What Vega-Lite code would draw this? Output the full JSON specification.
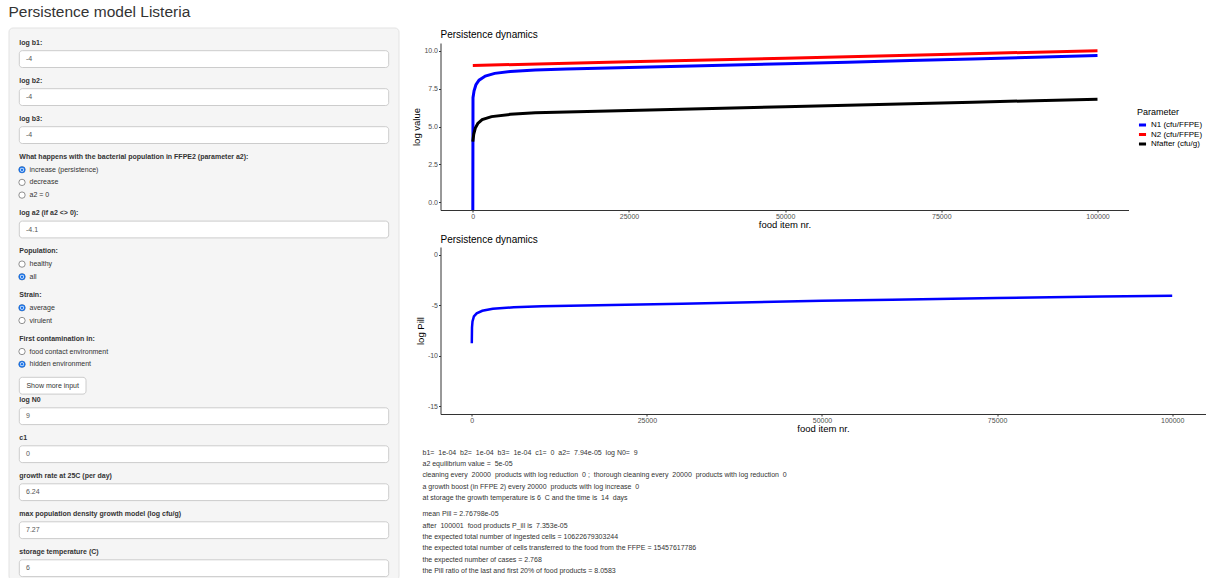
{
  "$schema": "https://vega.github.io/schema/vega-lite/v6.json",
  "background": "white",
  "padding": {"left": 8, "top": 5, "right": 0, "bottom": 0},
  "title": {"text": "Persistence model Listeria", "anchor": "start", "fontSize": 15.5, "fontWeight": "normal", "font": "Liberation Sans", "color": "#333333", "offset": 7},
  "spacing": 11.5,
  "hconcat": [
    {
      "width": 390,
      "height": 536,
      "data": {"values": [
        {"i": 1, "kind": "label", "text": "log b1:", "sel": false},
        {"i": 2, "kind": "input", "text": "-4", "sel": false},
        {"i": 3, "kind": "label", "text": "log b2:", "sel": false},
        {"i": 4, "kind": "input", "text": "-4", "sel": false},
        {"i": 5, "kind": "label", "text": "log b3:", "sel": false},
        {"i": 6, "kind": "input", "text": "-4", "sel": false},
        {"i": 7, "kind": "label", "text": "What happens with the bacterial population in FFPE2 (parameter a2):", "sel": false},
        {"i": 8, "kind": "radio", "text": "increase (persistence)", "sel": true},
        {"i": 9, "kind": "radio", "text": "decrease", "sel": false},
        {"i": 10, "kind": "radio", "text": "a2 = 0", "sel": false},
        {"i": 11, "kind": "label", "text": "log a2 (if a2 <> 0):", "sel": false},
        {"i": 12, "kind": "input", "text": "-4.1", "sel": false},
        {"i": 13, "kind": "label", "text": "Population:", "sel": false},
        {"i": 14, "kind": "radio", "text": "healthy", "sel": false},
        {"i": 15, "kind": "radio", "text": "all", "sel": true},
        {"i": 16, "kind": "label", "text": "Strain:", "sel": false},
        {"i": 17, "kind": "radio", "text": "average", "sel": true},
        {"i": 18, "kind": "radio", "text": "virulent", "sel": false},
        {"i": 19, "kind": "label", "text": "First contamination in:", "sel": false},
        {"i": 20, "kind": "radio", "text": "food contact environment", "sel": false},
        {"i": 21, "kind": "radio", "text": "hidden environment", "sel": true},
        {"i": 22, "kind": "button", "text": "Show more input", "sel": false},
        {"i": 23, "kind": "label", "text": "log N0", "sel": false},
        {"i": 24, "kind": "input", "text": "9", "sel": false},
        {"i": 25, "kind": "label", "text": "c1", "sel": false},
        {"i": 26, "kind": "input", "text": "0", "sel": false},
        {"i": 27, "kind": "label", "text": "growth rate at 25C (per day)", "sel": false},
        {"i": 28, "kind": "input", "text": "6.24", "sel": false},
        {"i": 29, "kind": "label", "text": "max population density growth model (log cfu/g)", "sel": false},
        {"i": 30, "kind": "input", "text": "7.27", "sel": false},
        {"i": 31, "kind": "label", "text": "storage temperature (C)", "sel": false},
        {"i": 32, "kind": "input", "text": "6", "sel": false},
        {"i": 99, "kind": "panel", "text": "", "sel": false}
      ]},
      "transform": [
        {"window": [{"op": "lag", "field": "kind", "as": "prev"}], "sort": [{"field": "i", "order": "ascending"}]},
        {"calculate": "datum.prev == null ? 41.7 : datum.kind == 'input' ? 16.4 : datum.kind == 'radio' ? (datum.prev == 'radio' ? 12.7 : 13) : datum.kind == 'button' ? 21.5 : (datum.prev == 'input' ? 21.6 : datum.prev == 'radio' ? 18 : 14.1)", "as": "gap"},
        {"window": [{"op": "sum", "field": "gap", "as": "yc"}], "sort": [{"field": "i", "order": "ascending"}], "frame": [null, 0]},
        {"calculate": "datum.kind == 'panel' ? 27 : datum.yc - 8.4", "as": "ytop"},
        {"calculate": "datum.kind == 'panel' ? 579 : datum.yc + 8.4", "as": "ybot"},
        {"calculate": "datum.kind == 'panel' ? 8 : 18.3", "as": "xl"},
        {"calculate": "21", "as": "xc"},
        {"calculate": "datum.kind == 'panel' ? 398 : datum.kind == 'button' ? 85 : 387.7", "as": "xr"},
        {"calculate": "datum.kind == 'radio' ? 28.5 : datum.kind == 'input' ? 25 : datum.kind == 'button' ? 51.7 : 18.3", "as": "xt"}
      ],
      "layer": [
        {
          "transform": [{"filter": "datum.kind == 'panel'"}],
          "mark": {"type": "rect", "fill": "#f5f5f5", "stroke": "#e3e3e3", "strokeWidth": 1, "cornerRadius": 4},
          "encoding": {
            "x": {"field": "xl", "type": "quantitative", "scale": {"domain": [8, 398], "nice": false, "zero": false}, "axis": null},
            "x2": {"field": "xr"},
            "y": {"field": "ytop", "type": "quantitative", "scale": {"domain": [42, 578], "reverse": true, "nice": false, "zero": false}, "axis": null},
            "y2": {"field": "ybot"}
          }
        },
        {
          "transform": [{"filter": "datum.kind == 'input' || datum.kind == 'button'"}],
          "mark": {"type": "rect", "fill": "white", "stroke": "#cccccc", "strokeWidth": 1, "cornerRadius": 3},
          "encoding": {
            "x": {"field": "xl", "type": "quantitative", "scale": {"domain": [8, 398], "nice": false, "zero": false}, "axis": null},
            "x2": {"field": "xr"},
            "y": {"field": "ytop", "type": "quantitative", "scale": {"domain": [42, 578], "reverse": true, "nice": false, "zero": false}, "axis": null},
            "y2": {"field": "ybot"}
          }
        },
        {
          "transform": [{"filter": "datum.kind == 'radio'"}],
          "mark": {"type": "point", "shape": "circle", "size": 40, "filled": true, "fill": "white", "stroke": "#767676", "strokeWidth": 0.8, "opacity": 1},
          "encoding": {
            "x": {"field": "xc", "type": "quantitative", "scale": {"domain": [8, 398], "nice": false, "zero": false}, "axis": null},
            "y": {"field": "yc", "type": "quantitative", "scale": {"domain": [42, 578], "reverse": true, "nice": false, "zero": false}, "axis": null}
          }
        },
        {
          "transform": [{"filter": "datum.kind == 'radio' && datum.sel"}],
          "mark": {"type": "point", "shape": "circle", "size": 44, "filled": true, "color": "#1a73e8", "opacity": 1},
          "encoding": {
            "x": {"field": "xc", "type": "quantitative", "scale": {"domain": [8, 398], "nice": false, "zero": false}, "axis": null},
            "y": {"field": "yc", "type": "quantitative", "scale": {"domain": [42, 578], "reverse": true, "nice": false, "zero": false}, "axis": null}
          }
        },
        {
          "transform": [{"filter": "datum.kind == 'radio' && datum.sel"}],
          "mark": {"type": "point", "shape": "circle", "size": 16, "filled": true, "color": "white", "opacity": 1},
          "encoding": {
            "x": {"field": "xc", "type": "quantitative", "scale": {"domain": [8, 398], "nice": false, "zero": false}, "axis": null},
            "y": {"field": "yc", "type": "quantitative", "scale": {"domain": [42, 578], "reverse": true, "nice": false, "zero": false}, "axis": null}
          }
        },
        {
          "transform": [{"filter": "datum.kind == 'radio' && datum.sel"}],
          "mark": {"type": "point", "shape": "circle", "size": 7, "filled": true, "color": "#1a73e8", "opacity": 1},
          "encoding": {
            "x": {"field": "xc", "type": "quantitative", "scale": {"domain": [8, 398], "nice": false, "zero": false}, "axis": null},
            "y": {"field": "yc", "type": "quantitative", "scale": {"domain": [42, 578], "reverse": true, "nice": false, "zero": false}, "axis": null}
          }
        },
        {
          "transform": [{"filter": "datum.kind == 'label'"}],
          "mark": {"type": "text", "align": "left", "baseline": "middle", "fontSize": 7, "fontWeight": "bold", "font": "Liberation Sans", "color": "#333333"},
          "encoding": {
            "x": {"field": "xt", "type": "quantitative", "scale": {"domain": [8, 398], "nice": false, "zero": false}, "axis": null},
            "y": {"field": "yc", "type": "quantitative", "scale": {"domain": [42, 578], "reverse": true, "nice": false, "zero": false}, "axis": null},
            "text": {"field": "text"}
          }
        },
        {
          "transform": [{"filter": "datum.kind == 'radio'"}],
          "mark": {"type": "text", "align": "left", "baseline": "middle", "fontSize": 7, "font": "Liberation Sans", "color": "#333333"},
          "encoding": {
            "x": {"field": "xt", "type": "quantitative", "scale": {"domain": [8, 398], "nice": false, "zero": false}, "axis": null},
            "y": {"field": "yc", "type": "quantitative", "scale": {"domain": [42, 578], "reverse": true, "nice": false, "zero": false}, "axis": null},
            "text": {"field": "text"}
          }
        },
        {
          "transform": [{"filter": "datum.kind == 'input'"}],
          "mark": {"type": "text", "align": "left", "baseline": "middle", "fontSize": 7, "font": "Liberation Sans", "color": "#555555"},
          "encoding": {
            "x": {"field": "xt", "type": "quantitative", "scale": {"domain": [8, 398], "nice": false, "zero": false}, "axis": null},
            "y": {"field": "yc", "type": "quantitative", "scale": {"domain": [42, 578], "reverse": true, "nice": false, "zero": false}, "axis": null},
            "text": {"field": "text"}
          }
        },
        {
          "transform": [{"filter": "datum.kind == 'button'"}],
          "mark": {"type": "text", "align": "center", "baseline": "middle", "fontSize": 7, "font": "Liberation Sans", "color": "#333333"},
          "encoding": {
            "x": {"field": "xt", "type": "quantitative", "scale": {"domain": [8, 398], "nice": false, "zero": false}, "axis": null},
            "y": {"field": "yc", "type": "quantitative", "scale": {"domain": [42, 578], "reverse": true, "nice": false, "zero": false}, "axis": null},
            "text": {"field": "text"}
          }
        }
      ]
    },
    {
      "spacing": 6,
      "vconcat": [
        {
          "width": 688,
          "height": 167,
          "title": {"text": "Persistence dynamics", "anchor": "start", "frame": "group", "fontSize": 10, "fontWeight": "normal", "color": "#000000", "offset": 3},
          "data": {"values": [
            {"item": 0, "value": -0.5, "Parameter": "N1 (cfu/FFPE)"},
            {"item": 30, "value": 6.9, "Parameter": "N1 (cfu/FFPE)"},
            {"item": 200, "value": 7.35, "Parameter": "N1 (cfu/FFPE)"},
            {"item": 500, "value": 7.75, "Parameter": "N1 (cfu/FFPE)"},
            {"item": 1000, "value": 8.05, "Parameter": "N1 (cfu/FFPE)"},
            {"item": 2000, "value": 8.32, "Parameter": "N1 (cfu/FFPE)"},
            {"item": 3500, "value": 8.5, "Parameter": "N1 (cfu/FFPE)"},
            {"item": 6000, "value": 8.62, "Parameter": "N1 (cfu/FFPE)"},
            {"item": 10000, "value": 8.72, "Parameter": "N1 (cfu/FFPE)"},
            {"item": 15000, "value": 8.79, "Parameter": "N1 (cfu/FFPE)"},
            {"item": 20000, "value": 8.84, "Parameter": "N1 (cfu/FFPE)"},
            {"item": 30000, "value": 8.93, "Parameter": "N1 (cfu/FFPE)"},
            {"item": 40000, "value": 9.03, "Parameter": "N1 (cfu/FFPE)"},
            {"item": 50000, "value": 9.13, "Parameter": "N1 (cfu/FFPE)"},
            {"item": 60000, "value": 9.24, "Parameter": "N1 (cfu/FFPE)"},
            {"item": 70000, "value": 9.35, "Parameter": "N1 (cfu/FFPE)"},
            {"item": 80000, "value": 9.45, "Parameter": "N1 (cfu/FFPE)"},
            {"item": 90000, "value": 9.56, "Parameter": "N1 (cfu/FFPE)"},
            {"item": 100001, "value": 9.67, "Parameter": "N1 (cfu/FFPE)"},
            {"item": 0, "value": 9.02, "Parameter": "N2 (cfu/FFPE)"},
            {"item": 25000, "value": 9.26, "Parameter": "N2 (cfu/FFPE)"},
            {"item": 50000, "value": 9.5, "Parameter": "N2 (cfu/FFPE)"},
            {"item": 75000, "value": 9.75, "Parameter": "N2 (cfu/FFPE)"},
            {"item": 100001, "value": 9.99, "Parameter": "N2 (cfu/FFPE)"},
            {"item": 0, "value": 4.0, "Parameter": "Nfafter (cfu/g)"},
            {"item": 150, "value": 4.5, "Parameter": "Nfafter (cfu/g)"},
            {"item": 400, "value": 4.9, "Parameter": "Nfafter (cfu/g)"},
            {"item": 800, "value": 5.2, "Parameter": "Nfafter (cfu/g)"},
            {"item": 1500, "value": 5.45, "Parameter": "Nfafter (cfu/g)"},
            {"item": 3000, "value": 5.65, "Parameter": "Nfafter (cfu/g)"},
            {"item": 6000, "value": 5.8, "Parameter": "Nfafter (cfu/g)"},
            {"item": 10000, "value": 5.9, "Parameter": "Nfafter (cfu/g)"},
            {"item": 15000, "value": 5.96, "Parameter": "Nfafter (cfu/g)"},
            {"item": 20000, "value": 6.0, "Parameter": "Nfafter (cfu/g)"},
            {"item": 30000, "value": 6.1, "Parameter": "Nfafter (cfu/g)"},
            {"item": 40000, "value": 6.2, "Parameter": "Nfafter (cfu/g)"},
            {"item": 50000, "value": 6.3, "Parameter": "Nfafter (cfu/g)"},
            {"item": 60000, "value": 6.4, "Parameter": "Nfafter (cfu/g)"},
            {"item": 70000, "value": 6.5, "Parameter": "Nfafter (cfu/g)"},
            {"item": 80000, "value": 6.6, "Parameter": "Nfafter (cfu/g)"},
            {"item": 90000, "value": 6.7, "Parameter": "Nfafter (cfu/g)"},
            {"item": 100001, "value": 6.8, "Parameter": "Nfafter (cfu/g)"}
          ]},
          "mark": {"type": "line", "strokeWidth": 3, "clip": true},
          "encoding": {
            "x": {"field": "item", "type": "quantitative", "scale": {"domain": [-5173, 104965], "nice": false, "zero": false},
                  "axis": {"values": [0, 25000, 50000, 75000, 100000], "format": "d", "title": "food item nr.", "titlePadding": 0}},
            "y": {"field": "value", "type": "quantitative", "scale": {"domain": [-0.5, 10.5], "nice": false, "zero": false},
                  "axis": {"values": [0, 2.5, 5, 7.5, 10], "format": ".1f", "title": "log value", "titlePadding": 2}},
            "color": {"field": "Parameter", "type": "nominal",
                      "scale": {"domain": ["N1 (cfu/FFPE)", "N2 (cfu/FFPE)", "Nfafter (cfu/g)"], "range": ["#0000FF", "#FF0000", "#000000"]},
                      "legend": {"title": "Parameter", "orient": "none", "legendX": 1128, "legendY": 65, "titleFontSize": 9, "titleFontWeight": "normal", "titleColor": "#000000", "titleFont": "Liberation Sans", "labelFontSize": 8, "labelColor": "#000000", "labelFont": "Liberation Sans", "symbolType": "stroke", "symbolStrokeWidth": 3, "symbolSize": 50, "clipHeight": 8, "rowPadding": 1.5, "titlePadding": 4, "labelOffset": 3}}
          }
        },
        {
          "width": 765,
          "height": 167,
          "title": {"text": "Persistence dynamics", "anchor": "start", "frame": "group", "fontSize": 10, "fontWeight": "normal", "color": "#000000", "offset": 2},
          "data": {"values": [
            {"item": 0, "logPill": -8.75},
            {"item": 30, "logPill": -7.2},
            {"item": 100, "logPill": -6.6},
            {"item": 300, "logPill": -6.1},
            {"item": 700, "logPill": -5.8},
            {"item": 1500, "logPill": -5.55},
            {"item": 3000, "logPill": -5.35},
            {"item": 6000, "logPill": -5.2},
            {"item": 10000, "logPill": -5.1},
            {"item": 20000, "logPill": -4.99},
            {"item": 30000, "logPill": -4.85},
            {"item": 40000, "logPill": -4.7},
            {"item": 50000, "logPill": -4.56},
            {"item": 60000, "logPill": -4.45},
            {"item": 75000, "logPill": -4.28},
            {"item": 90000, "logPill": -4.15},
            {"item": 100001, "logPill": -4.06}
          ]},
          "mark": {"type": "line", "strokeWidth": 2.5, "color": "#0000FF", "clip": true},
          "encoding": {
            "x": {"field": "item", "type": "quantitative", "scale": {"domain": [-4469, 104755], "nice": false, "zero": false},
                  "axis": {"values": [0, 25000, 50000, 75000, 100000], "format": "d", "title": "food item nr.", "titlePadding": 0}},
            "y": {"field": "logPill", "type": "quantitative", "scale": {"domain": [-15.75, 0.75], "nice": false, "zero": false},
                  "axis": {"values": [0, -5, -10, -15], "labelExpr": "datum.value + ''", "title": "log Pill", "titlePadding": 2}}
          }
        },
        {
          "width": 700,
          "height": 126,
          "data": {"values": [
            {"line": 1, "para": 1, "text": "b1= \u00a01e-04 \u00a0b2= \u00a01e-04 \u00a0b3= \u00a01e-04 \u00a0c1= \u00a00 \u00a0a2= \u00a07.94e-05 \u00a0log N0= \u00a09"},
            {"line": 2, "para": 1, "text": "a2 equilibrium value = \u00a05e-05"},
            {"line": 3, "para": 1, "text": "cleaning every \u00a020000 \u00a0products with log reduction \u00a00 ; \u00a0thorough cleaning every \u00a020000 \u00a0products with log reduction \u00a00"},
            {"line": 4, "para": 1, "text": "a growth boost (in FFPE 2) every 20000 \u00a0products with log increase \u00a00"},
            {"line": 5, "para": 1, "text": "at storage the growth temperature is 6 \u00a0C and the time is \u00a014 \u00a0days"},
            {"line": 6, "para": 2, "text": "mean Pill = 2.76798e-05"},
            {"line": 7, "para": 2, "text": "after \u00a0100001 \u00a0food products P_ill is \u00a07.353e-05"},
            {"line": 8, "para": 2, "text": "the expected total number of ingested cells = 10622679303244"},
            {"line": 9, "para": 2, "text": "the expected total number of cells transferred to the food from the FFPE = 15457617786"},
            {"line": 10, "para": 2, "text": "the expected number of cases = 2.768"},
            {"line": 11, "para": 2, "text": "the Pill ratio of the last and first 20% of food products = 8.0583"}
          ]},
          "transform": [{"calculate": "datum.line + (datum.para - 1) * 0.4", "as": "yy"}],
          "mark": {"type": "text", "align": "left", "baseline": "middle", "dx": -18, "fontSize": 7, "font": "Liberation Sans", "color": "#333333"},
          "encoding": {
            "x": {"value": 0},
            "y": {"field": "yy", "type": "quantitative", "scale": {"domain": [-0.19, 10.86], "reverse": true, "nice": false, "zero": false}, "axis": null},
            "text": {"field": "text"}
          }
        }
      ]
    }
  ],
  "config": {
    "font": "Liberation Sans",
    "view": {"stroke": null},
    "axis": {
      "grid": false,
      "domainColor": "#333333",
      "domainWidth": 1,
      "tickColor": "#333333",
      "tickSize": 2,
      "labelFontSize": 7,
      "labelColor": "#4d4d4d",
      "labelFont": "Liberation Sans",
      "labelPadding": 1,
      "titleFontSize": 9.5,
      "titleFontWeight": "normal",
      "titleColor": "#000000",
      "titleFont": "Liberation Sans"
    },
    "axisX": {"labelPadding": 0}
  }
}
